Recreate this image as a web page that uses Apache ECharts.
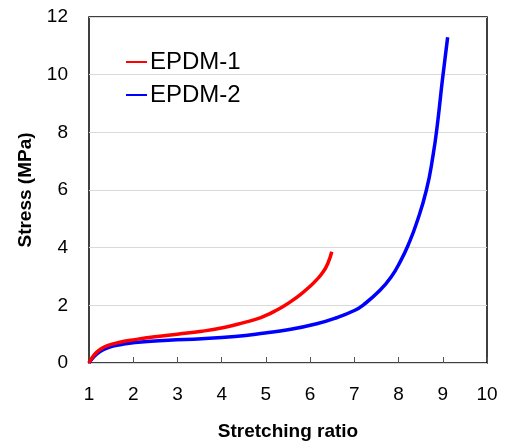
<!DOCTYPE html>
<html><head><meta charset="utf-8">
<script src="https://cdn.jsdelivr.net/npm/echarts@6/dist/echarts.min.js"></script>
<style>html,body{margin:0;padding:0;background:#fff}#c{width:508px;height:446px}</style>
</head><body><div id="c"></div>
<script>
const seriesNames = ['EPDM-1', 'EPDM-2'];
const epdm1X = [1, 1.1, 1.25, 1.45, 1.7, 2.04, 2.5, 3.0, 3.55, 4.08, 4.5, 4.8, 5.0, 5.2, 5.4, 5.6, 5.8, 6.0, 6.15, 6.3, 6.4, 6.49];
const epdm1Y = [0, 0.25, 0.47, 0.62, 0.72, 0.81, 0.91, 1.00, 1.10, 1.24, 1.40, 1.53, 1.65, 1.80, 1.97, 2.17, 2.40, 2.66, 2.89, 3.17, 3.45, 3.86];
const epdm2X = [1, 1.1, 1.25, 1.45, 1.7, 2.04, 2.79, 3.55, 4.30, 4.98, 5.5, 6.15, 6.6, 7.0, 7.2, 7.58, 7.84, 8.05, 8.22, 8.40, 8.63, 8.78, 8.88, 8.99, 9.11];
const epdm2Y = [0, 0.2, 0.4, 0.54, 0.63, 0.71, 0.79, 0.84, 0.92, 1.04, 1.15, 1.36, 1.57, 1.82, 2.01, 2.52, 3.00, 3.55, 4.10, 4.82, 6.00, 7.20, 8.30, 9.80, 11.30];
const xTitle = 'Stretching ratio';
const yTitle = 'Stress (MPa)';

const zip = (xs, ys) => xs.map((x, i) => [x, ys[i]]);
const chart = echarts.init(document.getElementById('c'));
const font = 'Liberation Sans, Arial, sans-serif';
chart.setOption({
  animation: false,
  grid: {left: 89, right: 21, top: 17, bottom: 78, show: true, borderColor: '#000', borderWidth: 1.5, backgroundColor: 'transparent'},
  legend: {
    data: seriesNames, orient: 'vertical', left: 121, top: 45, itemGap: 9,
    icon: 'rect', itemWidth: 21, itemHeight: 2,
    textStyle: {fontSize: 24, color: '#000', fontFamily: font, padding: [0, 0, 0, -2]}
  },
  xAxis: {
    type: 'value', min: 1, max: 10, interval: 1,
    name: xTitle, nameLocation: 'middle', nameGap: 59,
    nameTextStyle: {fontSize: 19, fontWeight: 'bold', color: '#000', fontFamily: font},
    axisLine: {show: false},
    axisTick: {show: true, inside: true, length: 6, lineStyle: {color: '#555'}},
    axisLabel: {fontSize: 19, color: '#000', margin: 22, fontFamily: font},
    splitLine: {show: false}
  },
  yAxis: {
    type: 'value', min: 0, max: 12, interval: 2,
    name: yTitle, nameLocation: 'middle', nameGap: 54, nameRotate: 90,
    nameTextStyle: {fontSize: 19, fontWeight: 'bold', color: '#000', fontFamily: font},
    axisLine: {show: false},
    axisTick: {show: false},
    axisLabel: {fontSize: 19, color: '#000', margin: 21, fontFamily: font},
    splitLine: {show: true, lineStyle: {color: '#d9d9d9', width: 1}}
  },
  series: [
    {name: seriesNames[0], type: 'line', data: zip(epdm1X, epdm1Y), smooth: 0.5, showSymbol: false, symbol: 'none', lineStyle: {color: '#ff0000', width: 3.5}, itemStyle: {color: '#ff0000'}, z: 3},
    {name: seriesNames[1], type: 'line', data: zip(epdm2X, epdm2Y), smooth: 0.5, showSymbol: false, symbol: 'none', lineStyle: {color: '#0000ff', width: 3.5}, itemStyle: {color: '#0000ff'}, z: 2}
  ]
});
</script></body></html>
